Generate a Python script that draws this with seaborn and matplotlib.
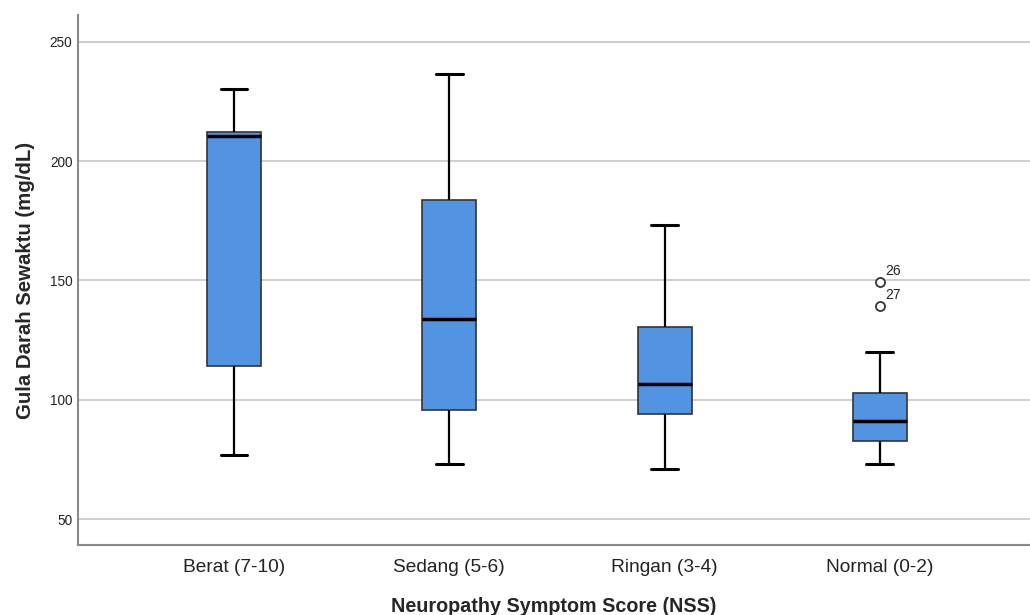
import pandas as pd
import seaborn as sns
import matplotlib.pyplot as plt

# five-number summaries (whisker ends, quartiles, median)
groups = ["Berat (7-10)", "Sedang (5-6)", "Ringan (3-4)", "Normal (0-2)"]
whisker_low = [77, 73, 71, 73]
q1 = [114, 95.5, 94, 82.7]
median = [210.7, 134, 106.7, 91.2]
q3 = [212, 183.6, 130.5, 102.6]
whisker_high = [230, 236.5, 173, 120]
outlier_values = [[], [], [], [149.2, 139.2]]
outlier_ids = [[], [], [], ["26", "27"]]

box_color = "#5294e2"

# build a long table: quartiles repeated so the computed stats hit the summary values
rows = []
for i, g in enumerate(groups):
    vals = [whisker_low[i]] + [q1[i]] * 3 + [median[i]] * 3 + [q3[i]] * 3 + [whisker_high[i]]
    vals += outlier_values[i]
    rows += [(g, v) for v in vals]
df = pd.DataFrame(rows, columns=["NSS", "GDS"])

sns.set_style("white")
plt.rcParams["font.family"] = ["Liberation Sans", "DejaVu Sans"]

fig = plt.figure(figsize=(10.3, 6.15), dpi=100)
ax = fig.add_axes([0.0757, 0.1138, 0.9243, 0.8618])

ax.yaxis.grid(True, color="#cccccc", linewidth=1.3, zorder=0)
ax.set_axisbelow(True)

sns.boxplot(data=df, x="NSS", y="GDS", order=groups, color=box_color, saturation=1,
            width=0.25, linecolor="black", linewidth=1.5, ax=ax,
            boxprops=dict(edgecolor="#333333", linewidth=1.2),
            medianprops=dict(color="black", linewidth=2.5),
            whiskerprops=dict(color="black", linewidth=1.6),
            capprops=dict(color="black", linewidth=2.2),
            flierprops=dict(marker="o", markerfacecolor="white", markeredgecolor="#333333",
                            markersize=6.5, markeredgewidth=1.3),
            capwidths=0.125)

# case labels next to the outliers
for i, g in enumerate(groups):
    for v, lab in zip(outlier_values[i], outlier_ids[i]):
        ax.annotate(lab, (i, v), xytext=(4, 3), textcoords="offset points",
                    ha="left", va="bottom", fontsize=10, color="#222222")

ax.set_xlim(-0.7245, 3.697)
ax.set_ylim(39.1, 261.2)
ax.set_yticks([50, 100, 150, 200, 250])
ax.tick_params(axis="y", labelsize=9.8, length=0, pad=4, labelcolor="#222222")
ax.tick_params(axis="x", labelsize=13.8, length=0, pad=10, labelcolor="#222222")

ax.set_xlabel("Neuropathy Symptom Score (NSS)", fontsize=14.2, fontweight="bold", labelpad=15)
ax.set_ylabel("Gula Darah Sewaktu (mg/dL)", fontsize=14.7, fontweight="bold", labelpad=11)

for side in ["top", "right"]:
    ax.spines[side].set_visible(False)
for side in ["left", "bottom"]:
    ax.spines[side].set_color("#888888")
    ax.spines[side].set_linewidth(1.5)

fig.savefig("out.png", dpi=100)
